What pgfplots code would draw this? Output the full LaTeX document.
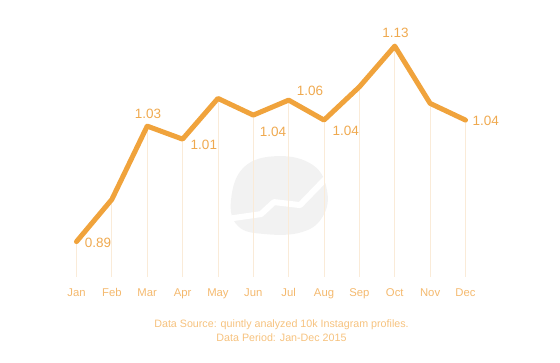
\documentclass[border=0pt]{standalone}
\usepackage{fontspec}
\setmainfont{Liberation Sans}
\usepackage{pgfplots}
\pgfplotsset{compat=1.18}
\definecolor{lineor}{HTML}{F0A33C}
\definecolor{labor}{HTML}{EFA94F}
\definecolor{tickor}{HTML}{F4B96E}
\definecolor{noteor}{HTML}{F6C27E}
\definecolor{gridor}{HTML}{FAEBD8}
\tikzset{vlab/.style={text=labor, font=\fontsize{13.5}{15}\selectfont, inner sep=0pt}}
\begin{document}
\begin{tikzpicture}
\begin{axis}[
  scale only axis,
  width=560pt, height=362pt,
  xmin=-2.163, xmax=13.673,
  ymin=0.7421, ymax=1.1865,
  axis line style={draw=none},
  major tick length=0pt,
  ytick=\empty,
  xtick={0,...,11},
  xticklabels={Jan,Feb,Mar,Apr,May,Jun,Jul,Aug,Sep,Oct,Nov,Dec},
  x tick label style={anchor=base, yshift=65.5pt, font=\fontsize{11.3}{13}\selectfont, text=tickor},
  /pgf/number format/assume math mode=true,
  clip=false,
  unbounded coords=jump,
]
% watermark
\fill[black!5] plot[smooth cycle, tension=0.7] coordinates {(rel axis cs:0.4125,0.4475) (rel axis cs:0.4357,0.5387) (rel axis cs:0.4964,0.5691) (rel axis cs:0.5589,0.5442) (rel axis cs:0.5839,0.4751) (rel axis cs:0.5768,0.4033) (rel axis cs:0.5393,0.3591) (rel axis cs:0.4732,0.3536) (rel axis cs:0.4250,0.3757)};
\draw[white, line width=6pt, line join=round] (rel axis cs:0.4036,0.3950) -- (rel axis cs:0.4661,0.4088) -- (rel axis cs:0.4893,0.4420) -- (rel axis cs:0.5357,0.4337) -- (rel axis cs:0.5929,0.5249);
% vertical guide lines
\addplot[gridor, line width=0.8pt, forget plot] coordinates {
(0,0.8464) (0,0.89) (0,nan)
(1,0.8464) (1,0.9418) (1,nan)
(2,0.8464) (2,1.0318) (2,nan)
(3,0.8464) (3,1.0158) (3,nan)
(4,0.8464) (4,1.0658) (4,nan)
(5,0.8464) (5,1.0453) (5,nan)
(6,0.8464) (6,1.0637) (6,nan)
(7,0.8464) (7,1.0392) (7,nan)
(8,0.8464) (8,1.0800) (8,nan)
(9,0.8464) (9,1.1300) (9,nan)
(10,0.8464) (10,1.0597) (10,nan)
(11,0.8464) (11,1.0392)
};
% main line
\addplot[lineor, line width=5pt, line join=round, line cap=round] coordinates {
(0,0.89) (1,0.9418) (2,1.0318) (3,1.0158) (4,1.0658) (5,1.0453)
(6,1.0637) (7,1.0392) (8,1.0800) (9,1.1300) (10,1.0597) (11,1.0392)
};
% value labels
\node[vlab, xshift=21.5pt, yshift=-1.5pt] at (axis cs:0,0.89) {0.89};
\node[vlab, xshift=0.7pt, yshift=12pt] at (axis cs:2,1.0318) {1.03};
\node[vlab, xshift=21.3pt, yshift=-6pt] at (axis cs:3,1.0158) {1.01};
\node[vlab, xshift=19.7pt, yshift=-17pt] at (axis cs:5,1.0453) {1.04};
\node[vlab, xshift=21.3pt, yshift=9pt] at (axis cs:6,1.0637) {1.06};
\node[vlab, xshift=21.7pt, yshift=-11pt] at (axis cs:7,1.0392) {1.04};
\node[vlab, xshift=0.7pt, yshift=13pt] at (axis cs:9,1.13) {1.13};
\node[vlab, xshift=20.3pt, yshift=-1pt] at (axis cs:11,1.0392) {1.04};
% footnote
\node[text=noteor, font=\fontsize{10.7}{14}\selectfont, align=center, anchor=center] at (rel axis cs:0.5027,0.0855) {Data Source: quintly analyzed 10k Instagram profiles.\\Data Period: Jan-Dec 2015};
\end{axis}
\end{tikzpicture}
\end{document}
